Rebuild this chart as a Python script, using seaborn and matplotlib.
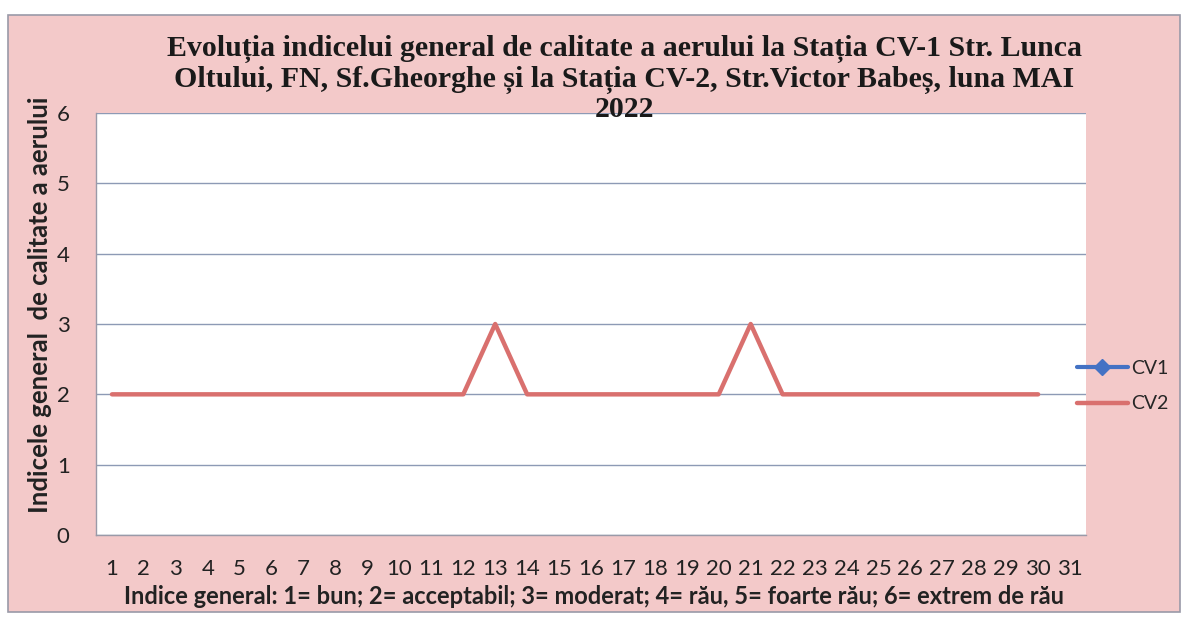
import numpy as np
import pandas as pd
import matplotlib
matplotlib.use("Agg")
import matplotlib.pyplot as plt
from matplotlib.patches import Rectangle
from matplotlib.lines import Line2D
import seaborn as sns

# zilele lunii mai
days = list(range(1, 32))
# CV1 - fara date in luna mai
cv1 = [np.nan] * 31
# CV2 - indice general zilnic (ziua 31 lipsa)
cv2 = [2, 2, 2, 2, 2, 2, 2, 2, 2, 2, 2, 2, 3, 2, 2, 2, 2, 2, 2, 2,
       3, 2, 2, 2, 2, 2, 2, 2, 2, 2, np.nan]
yticks = [0, 1, 2, 3, 4, 5, 6]

title = ("Evoluția indicelui general de calitate a aerului la Stația CV-1 Str. Lunca\n"
         "Oltului, FN, Sf.Gheorghe și la Stația CV-2, Str.Victor Babeș, luna MAI\n"
         "2022")
xlabel = "Indice general: 1= bun; 2= acceptabil; 3= moderat; 4= rău, 5= foarte rău; 6= extrem de rău"
ylabel = "Indicele general  de calitate a aerului"

df = pd.DataFrame({"zi": days, "CV1": cv1, "CV2": cv2})

sns.set_style("white")
plt.rcParams['font.family'] = ['Lato', 'DejaVu Sans']

blue = "#4472C4"
red = "#D9706E"
pink = "#F3C9C9"

fig = plt.figure(figsize=(11.87, 6.21), dpi=100)
fig.patch.set_facecolor("white")
fig.patches.append(Rectangle((0.0067, 0.0145), 0.987, 0.961, transform=fig.transFigure,
                             facecolor=pink, edgecolor="#9a9aa8", linewidth=1.2, zorder=-10))

ax = fig.add_axes([0.0809, 0.1385, 0.834, 0.6795])
ax.set_facecolor("white")

sns.lineplot(data=df, x="zi", y="CV1", ax=ax, color=blue, linewidth=3,
             marker="D", markersize=8)
sns.lineplot(data=df, x="zi", y="CV2", ax=ax, color=red, linewidth=3.2)

ax.set_xlim(0.5, 31.5)
ax.set_ylim(0, 6)
ax.set_xticks(days)
ax.set_xticklabels([str(d) for d in days], fontsize=16, color="#222222")
ax.set_yticks(yticks)
ax.set_yticklabels([str(t) for t in yticks], fontsize=16, color="#222222")
ax.tick_params(axis="both", length=0)
ax.tick_params(axis="x", pad=17)
ax.tick_params(axis="y", pad=19)
ax.grid(axis="y", color="#8d9ab5", linewidth=1)
ax.set_axisbelow(True)
for side in ["top", "right"]:
    ax.spines[side].set_visible(False)
for side in ["left", "bottom"]:
    ax.spines[side].set_color("#9a9aa8")
    ax.spines[side].set_linewidth(1)

ax.set_xlabel("")
ax.set_ylabel("")
fig.text(0.5, 1 - 597 / 621, xlabel, ha="center", va="center",
         fontsize=17, fontweight="bold", color="#222222")
fig.text(0.034, 0.509, ylabel, rotation=90, ha="center", va="center",
         fontsize=18.5, fontweight="bold", color="#222222")

fig.text(0.526, 1 - 79 / 621, title, ha="center", va="center", fontsize=21.5, fontweight="bold",
         family=["Liberation Serif", "DejaVu Serif"], color="#1a1a1a", linespacing=1.12)

handles = [Line2D([], [], color=blue, linewidth=3, marker="D", markersize=8),
           Line2D([], [], color=red, linewidth=3.2)]
fig.legend(handles, ["CV1", "CV2"], loc="center left", bbox_to_anchor=(1077 / 1187, 0.378),
           frameon=False, fontsize=14, handlelength=2.6, handletextpad=0.2,
           labelspacing=0.95, borderpad=0, borderaxespad=0)

fig.savefig("out.png", dpi=100)
